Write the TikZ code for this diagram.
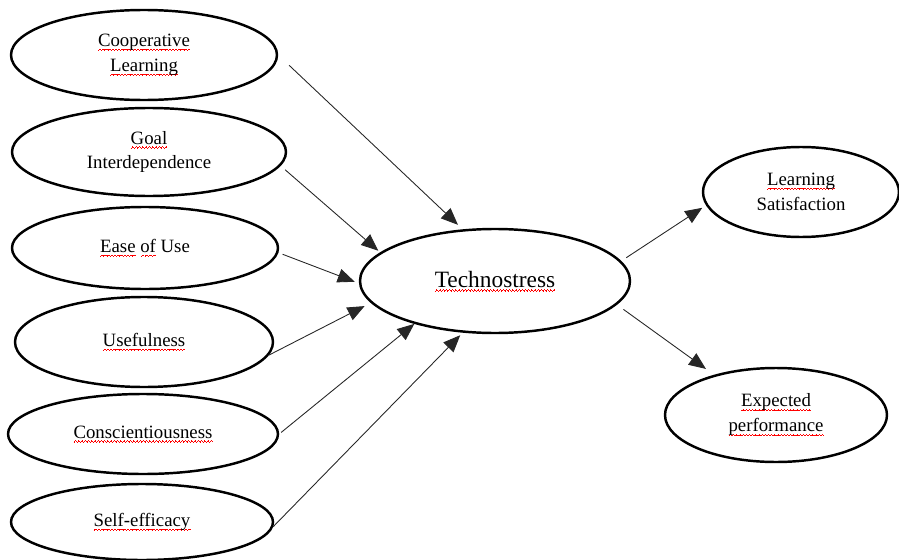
\documentclass[tikz,border=0pt]{standalone}
\usepackage{fontspec}
\setmainfont{Liberation Serif}
\usetikzlibrary{shapes.geometric, arrows.meta}
\newcommand{\wavebit}{\rule[0pt]{0.45pt}{0.4pt}\rule[0.4pt]{0.45pt}{0.4pt}\rule[0.8pt]{0.45pt}{0.4pt}\rule[0.4pt]{0.45pt}{0.4pt}}
\newcommand{\spell}[1]{\setbox0\hbox{#1}\leavevmode\rlap{\color{red}\raisebox{-2.4pt}{\hbox to \wd0{\xleaders\hbox{\wavebit}\hfil}}}\box0\relax}
\begin{document}
\begin{tikzpicture}[
        oval/.style={ellipse, draw, line width=1.4pt, inner sep=0pt, align=center,
            font=\fontsize{10.7}{14.2}\selectfont},
        link/.style={-{Triangle[length=3.4mm,width=2.8mm]}, line width=0.5pt, black!85}
    ]
        \useasboundingbox (0,0) rectangle (17.98,-11.2);
        \node[oval, minimum width=5.32cm, minimum height=1.80cm] (cl) at (2.88,-1.10) {\spell{Cooperative}\\\spell{Learning}};
        \node[oval, minimum width=5.48cm, minimum height=1.76cm] (gi) at (2.98,-3.04) {\spell{Goal}\\Interdependence};
        \node[oval, minimum width=5.32cm, minimum height=1.64cm] (eou) at (2.90,-4.96) {\spell{Ease} \spell{of} Use};
        \node[oval, minimum width=5.16cm, minimum height=1.80cm] (use) at (2.88,-6.84) {\spell{Usefulness}};
        \node[oval, minimum width=5.40cm, minimum height=1.60cm] (con) at (2.86,-8.68) {\spell{Conscientiousness}};
        \node[oval, minimum width=5.24cm, minimum height=1.52cm] (self) at (2.84,-10.44) {\spell{Self-efficacy}};
        \node[oval, minimum width=5.40cm, minimum height=2.08cm, font=\fontsize{13.3}{16}\selectfont] (tech) at (9.90,-5.62) {\spell{Technostress}};
        \node[oval, minimum width=3.92cm, minimum height=1.80cm] (ls) at (16.02,-3.84) {\spell{Learning}\\Satisfaction};
        \node[oval, minimum width=4.44cm, minimum height=1.88cm] (ep) at (15.52,-8.30) {\spell{Expected}\\\spell{performance}};
        \foreach \src/\a/\b/\s/\e in {cl/0/122.5/0.30/0.13, gi/-6/166.6/0.12/0.05, eou/-2/181/0.09/0.09,
                use/-6/190/0/0.14, con/0/208/0.05/0, self/-2/238/0/0.07} {
            \draw[link, shorten <=\s cm, shorten >=\e cm] (\src.\a) -- (tech.\b);
        }
        \draw[link, shorten <=0.12cm, shorten >=0.09cm] (tech.9.6) -- (ls.188.4);
        \draw[link, shorten <=0.16cm, shorten >=0.20cm] (tech.-11) -- (ep.147.7);
    \end{tikzpicture}
\end{document}
